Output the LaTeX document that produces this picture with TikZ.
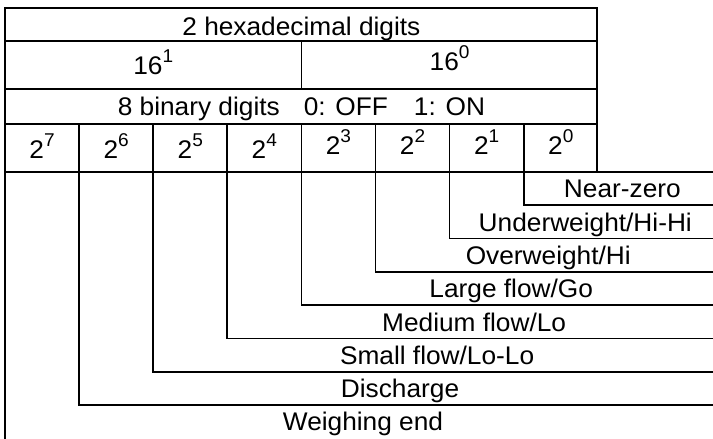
\documentclass[tikz,border=0pt]{standalone}
\usepackage{fontspec}
\setmainfont{Liberation Sans}[FakeStretch=1.03]
\usepackage{tikz}
\usetikzlibrary{positioning}
\newcommand{\powr}[2]{#1\raisebox{0.46em}{\fontsize{18.5pt}{18.5pt}\selectfont #2}}

\begin{document}
\begin{tikzpicture}[
    x=1pt, y=-1pt,
    gridline/.style={
      line width=1.7pt, line join=miter
    },
    cell/.style={
      inner sep=0pt, text height=18.3pt, text depth=0pt,
      font=\fontsize{25.5pt}{29pt}\selectfont
    }
  ]
  \useasboundingbox (0,0) rectangle (713,439);

  % --- Upper table: hex and binary rows ---
  \draw[gridline] (5,439) -- (5,8) -- (597,8) -- (597,172);
  \draw[gridline] (5,41) -- (597,41);
  \draw[gridline] (5,89) -- (597,89);
  \draw[gridline] (5,124) -- (597,124);
  \draw[gridline] (5,172) -- (713,172);
  \draw[gridline] (301.4,41) -- (301.4,89);

  \node[cell] (hex) at (301.4,26) {2 hexadecimal digits};
  \node[cell] (h1) at (153.2,65) {\powr{16}{1}};
  \node[cell] (h0) at (449.6,61) {\powr{16}{0}};
  \node[cell] (bin) at (301.4,106.5)
    {8 binary digits\hspace{24pt}0: OFF\hspace{26pt}1: ON};

  \foreach \e/\yy [count=\c from 0] in {7/149,6/149,5/149,4/149,3/145,2/145,1/145,0/145}
    \node[cell] (b\e) at ({5+74.1*(\c+0.5)},\yy) {\powr{2}{\e}};

  % --- Lower part: one step per bit ---
  \foreach \i in {1,...,7}
    \draw[gridline] ({5+74.1*\i},124) -- ({5+74.1*\i},{172+33.3*(8-\i)})
      -- (713,{172+33.3*(8-\i)});

  \foreach \lab [count=\k] in {Near-zero,{Underweight/Hi-Hi},{Overweight/Hi},
      {Large flow/Go},{Medium flow/Lo},{Small flow/Lo-Lo},Discharge,Weighing end}
    \node[cell] (L\k) at ({(5+74.1*(8-\k)+721)/2},{172+33.3*(\k-0.5)}) {\lab};
\end{tikzpicture}
\end{document}
